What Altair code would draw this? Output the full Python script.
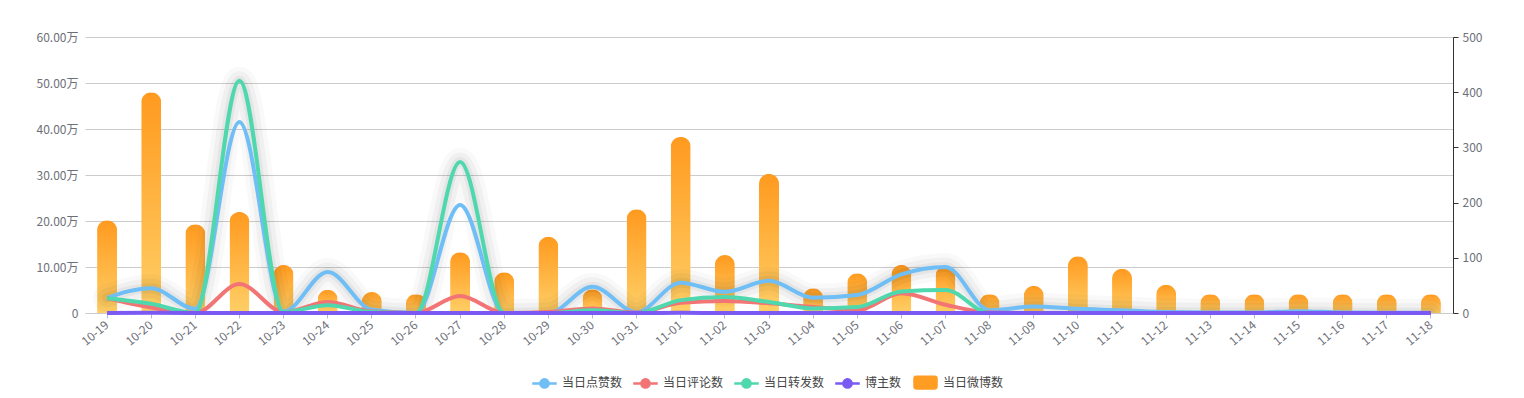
import altair as alt
import pandas as pd

dates = ["10-19", "10-20", "10-21", "10-22", "10-23", "10-24", "10-25", "10-26",
         "10-27", "10-28", "10-29", "10-30", "10-31", "11-01", "11-02", "11-03",
         "11-04", "11-05", "11-06", "11-07", "11-08", "11-09", "11-10", "11-11",
         "11-12", "11-13", "11-14", "11-15", "11-16", "11-17", "11-18"]

posts = [168, 400, 161, 183, 87, 42, 38, 34, 110, 74, 138, 43, 188, 319, 105, 252,
         45, 72, 87, 85, 34, 49, 103, 80, 51, 34, 34, 34, 34, 34, 34]

likes = [33000, 54000, 9000, 415000, 3000, 89000, 7000, 0, 235000, 0, 0, 57000, 2000,
         66000, 46000, 70000, 33000, 39000, 84000, 100000, 6000, 14000, 9000, 6000,
         2000, 1000, 1000, 4000, 1000, 500, 500]

comments = [32000, 12000, 0, 63000, 2000, 24000, 3000, 0, 37000, 0, 2000, 10000, 1000,
            22000, 26000, 21000, 13000, 6000, 43000, 18000, 1000, 0, 0, 0,
            0, 0, 0, 0, 0, 0, 0]

reposts = [32000, 20000, 0, 505000, 2000, 17000, 2000, 0, 328000, 0, 0, 6000, 0,
           28000, 35000, 24000, 10000, 13000, 47000, 50000, 0, 0, 0, 0,
           0, 0, 0, 0, 0, 0, 0]

bloggers = [150, 360, 140, 160, 80, 40, 35, 30, 95, 65, 120, 40, 170, 280, 95, 220,
            40, 65, 80, 75, 30, 45, 90, 70, 45, 30, 30, 30, 30, 30, 30]

series_names = ["当日点赞数", "当日评论数", "当日转发数", "博主数", "当日微博数"]
series_colors = ["#6fbef5", "#f27474", "#4fd8ad", "#7a5af3", "#ff9c22"]

bar_df = pd.DataFrame({"date": dates, "posts": posts})

rows = []
for name, vals in zip(series_names[:4], [likes, comments, reposts, bloggers]):
    for d, v in zip(dates, vals):
        rows.append({"date": d, "series": name, "value": v})
line_df = pd.DataFrame(rows)

FONT = "Noto Sans CJK SC"
LABEL = "#6e7079"

x_enc = alt.X("date:N", sort=dates, title=None,
              scale=alt.Scale(type="band", paddingInner=0, paddingOuter=0),
              axis=alt.Axis(labelAngle=-40, labelAlign="right", labelBaseline="middle",
                            labelPadding=5, labelColor=LABEL, labelFontSize=12,
                            tickColor="#b9b4e8", tickSize=5, domainColor="#cccccc",
                            grid=False, labelFont=FONT))

grad = alt.Gradient(gradient="linear",
                    stops=[alt.GradientStop(color="#ffcf66", offset=0),
                           alt.GradientStop(color="#ff9a1f", offset=1)],
                    x1=0, x2=0, y1=1, y2=0)

bars = alt.Chart(bar_df).mark_bar(size=20, cornerRadiusTopLeft=10,
                                  cornerRadiusTopRight=10, color=grad).encode(
    x=x_enc,
    y=alt.Y("posts:Q", title=None,
            scale=alt.Scale(domain=[0, 500], nice=False),
            axis=alt.Axis(orient="right", values=[0, 100, 200, 300, 400, 500],
                          grid=False, domain=True, domainColor="#333333",
                          ticks=True, tickColor="#333333", tickSize=5,
                          labelColor=LABEL, labelFontSize=12, labelPadding=4,
                          labelFont=FONT)),
)

left_y_scale = alt.Scale(domain=[0, 600000], nice=False)
left_axis = alt.Axis(orient="left",
                     values=[0, 100000, 200000, 300000, 400000, 500000, 600000],
                     labelExpr="datum.value == 0 ? '0' : format(datum.value / 10000, '.2f') + '万'",
                     grid=True, gridColor="#cccccc", domain=False, ticks=False,
                     labelColor=LABEL, labelFontSize=12, labelPadding=7,
                     labelFont=FONT)

line_path = ("M-1,-0.045L1,-0.045L1,0.045L-1,0.045Z"
             "M0.4,0A0.4,0.4,0,1,1,-0.4,0A0.4,0.4,0,1,1,0.4,0Z")
rect_path = ("M-0.8,-0.55L0.8,-0.55A0.2,0.2,0,0,1,1,-0.35L1,0.35A0.2,0.2,0,0,1,0.8,0.55"
             "L-0.8,0.55A0.2,0.2,0,0,1,-1,0.35L-1,-0.35A0.2,0.2,0,0,1,-0.8,-0.55Z")
shape_range = [line_path, line_path, line_path, line_path, rect_path]

color_scale = alt.Scale(domain=series_names, range=series_colors)
shape_scale = alt.Scale(domain=series_names, range=shape_range)


def make_legend():
    return alt.Legend(title=None, orient="none", legendX=447, legendY=333,
                      direction="horizontal", symbolSize=529, symbolOpacity=1,
                      labelFontSize=12, labelColor="#444444", labelFont=FONT,
                      columnPadding=8, labelOffset=5)


def y_left(field="value"):
    return alt.Y(f"{field}:Q", title=None, scale=left_y_scale, axis=left_axis)


base_line = alt.Chart(line_df)

shadow_layers = []
for w, op in [(28, 0.025), (19, 0.035), (10, 0.045)]:
    shadow_layers.append(
        base_line.transform_aggregate(
            top="max(value)", groupby=["date"]
        ).mark_line(interpolate="monotone", strokeWidth=w, color="#000000",
                    opacity=op, clip=True, strokeCap="round").encode(
            x=alt.X("date:N", sort=dates),
            y=y_left("top"),
        )
    )

lines = base_line.mark_line(interpolate="monotone", strokeWidth=4).encode(
    x=alt.X("date:N", sort=dates),
    y=y_left(),
    color=alt.Color("series:N", scale=color_scale, legend=make_legend()),
    order=alt.Order("series:N"),
)

legend_pts = base_line.mark_point(filled=True, opacity=0, size=529).encode(
    x=alt.X("date:N", sort=dates),
    y=y_left(),
    color=alt.Color("series:N", scale=color_scale, legend=make_legend()),
    shape=alt.Shape("series:N", scale=shape_scale, legend=make_legend()),
)

chart = alt.layer(bars, alt.layer(*shadow_layers, lines, legend_pts)).resolve_scale(
    y="independent"
).properties(
    width=1368, height=276,
    autosize=alt.AutoSizeParams(type="none"),
    padding={"left": 77, "top": 29, "right": 50, "bottom": 84},
).configure(font=FONT).configure_view(stroke=None)

chart.save("out.html", embed_options={"renderer": "svg", "actions": False})
